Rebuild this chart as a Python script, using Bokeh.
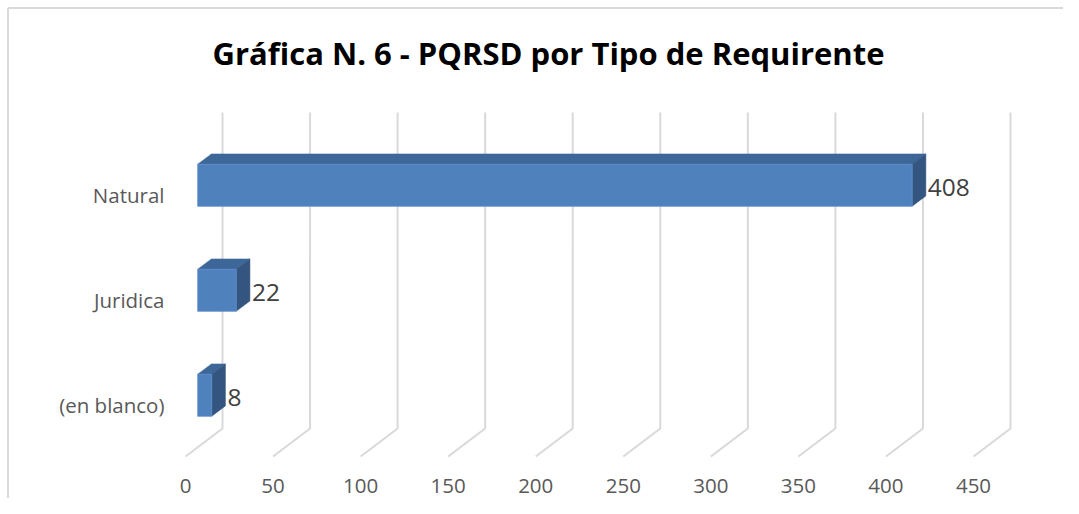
from bokeh.plotting import figure
from bokeh.models import ColumnDataSource, Range1d
from bokeh.embed import file_html
from bokeh.resources import INLINE
from bokeh.core.properties import value

# ---------------- data ----------------
title = "Gráfica N. 6 - PQRSD por Tipo de Requirente"
categories = ["(en blanco)", "Juridica", "Natural"]
counts = [8, 22, 408]
ticks = [0, 50, 100, 150, 200, 250, 300, 350, 400, 450]

# ---------------- geometry ----------------
W, H = 1063, 498
PX_PER_UNIT = 788 / 450.0      # pixels per count unit
X0_PX = 185                    # canvas px of value 0 on the front plane
CAT_PX = 105                   # pixels between categories
Y0_PX = 404                    # canvas px of first category on front plane
DEPTH_X_PX, DEPTH_Y_PX = 37, 28

x_start = -X0_PX / PX_PER_UNIT
x_end = (W - X0_PX) / PX_PER_UNIT
y_end = Y0_PX / CAT_PX
y_start = -(H - Y0_PX) / CAT_PX

DX = DEPTH_X_PX / PX_PER_UNIT
DY = DEPTH_Y_PX / CAT_PX
ux = 1 / PX_PER_UNIT
uy = 1 / CAT_PX

p = figure(width=W, height=H, x_range=Range1d(x_start, x_end), y_range=Range1d(y_start, y_end),
           output_backend="svg", toolbar_location=None, min_border=0,
           x_axis_location=None, y_axis_location=None, outline_line_color=None,
           background_fill_color="white", border_fill_color="white")
p.xgrid.visible = False
p.ygrid.visible = False

# border (top and left visible)
p.line([x_start + 7.5 * ux, x_end], [y_end - 7.5 * uy, y_end - 7.5 * uy], line_color="#d9d9d9", line_width=2)
p.line([x_start + 7.5 * ux, x_start + 7.5 * ux], [y_start, y_end - 7.5 * uy], line_color="#d9d9d9", line_width=2)

# 3D gridlines
y_floor_front = -(456 - Y0_PX) * uy
y_floor_back = y_floor_front + DY
y_top = (Y0_PX - 112) * uy
gx = [[t, t + DX, t + DX] for t in ticks]
gy = [[y_floor_front, y_floor_back, y_top] for t in ticks]
p.multi_line(gx, gy, line_color="#d9d9d9", line_width=2)

# 3D bars
d1, d2, half = 0.33, 0.70, 0.20
front_l, front_r, front_b, front_t = [], [], [], []
top_xs, top_ys, side_xs, side_ys = [], [], [], []
for i, v in enumerate(counts):
    yc1 = i + d1 * DY
    yc2 = i + d2 * DY
    x1l, x1r = d1 * DX, v + d1 * DX
    x2l, x2r = d2 * DX, v + d2 * DX
    front_l.append(x1l); front_r.append(x1r)
    front_b.append(yc1 - half); front_t.append(yc1 + half)
    top_xs.append([x1l, x1r, x2r, x2l])
    top_ys.append([yc1 + half, yc1 + half, yc2 + half, yc2 + half])
    side_xs.append([x1r, x1r, x2r, x2r])
    side_ys.append([yc1 - half, yc1 + half, yc2 + half, yc2 - half])

p.patches(top_xs, top_ys, fill_color="#3d6699", line_color="#3d6699", line_width=0.5)
p.patches(side_xs, side_ys, fill_color="#33557f", line_color="#33557f", line_width=0.5)
p.quad(left=front_l, right=front_r, bottom=front_b, top=front_t,
       fill_color="#4f81bd", line_color="#5b8ccb", line_width=0.8)

# data labels
lab_src = ColumnDataSource(dict(
    x=[v + d2 * DX + 2 * ux for v in counts],
    y=[i + d1 * DY - 2 * uy for i in range(len(counts))],
    t=[str(v) for v in counts]))
p.text(x="x", y="y", text="t", source=lab_src, text_font=value("Open Sans"),
       text_font_size="24.5px", text_color="#404040", text_align="left", text_baseline="middle")

# category labels
cat_src = ColumnDataSource(dict(x=[-21 * ux] * len(categories),
                                y=list(range(len(categories))), t=categories))
p.text(x="x", y="y", text="t", source=cat_src, text_font=value("Open Sans"),
       text_font_size="20.5px", text_color="#595959", text_align="right", text_baseline="middle")

# value tick labels
tick_src = ColumnDataSource(dict(x=ticks, y=[-(485 - Y0_PX) * uy] * len(ticks),
                                 t=[str(t) for t in ticks]))
p.text(x="x", y="y", text="t", source=tick_src, text_font=value("Open Sans"),
       text_font_size="20.5px", text_color="#595959", text_align="center", text_baseline="middle")

# title
p.text(x=[(548 - X0_PX) * ux], y=[(Y0_PX - 52) * uy], text=[title], text_font=value("Open Sans"),
       text_font_size="31px", text_font_style="bold", text_color="#000000",
       text_align="center", text_baseline="middle")

open("out.html", "w").write(file_html(p, INLINE))
